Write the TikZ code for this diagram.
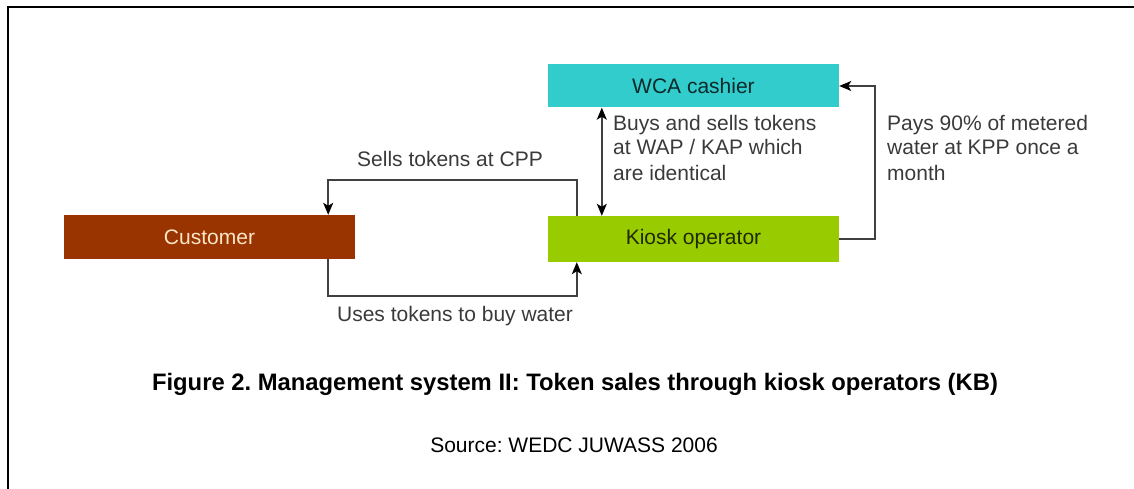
\documentclass[tikz,border=0pt]{standalone}
\usepackage{fontspec}
\setmainfont{Liberation Sans}
\usetikzlibrary{arrows.meta}
\definecolor{wcacol}{HTML}{33CCCC}
\definecolor{kiocol}{HTML}{99CC00}
\definecolor{cuscol}{HTML}{993300}
\definecolor{custxt}{HTML}{FBE6C8}
\definecolor{linecol}{HTML}{404040}
\definecolor{txtcol}{HTML}{3A3A3A}
\tikzset{
  box/.style={draw=none, inner sep=0pt, minimum width=291pt, font=\fontsize{21}{25}\selectfont, text=txtcol},
  tipa/.tip={Stealth[length=12pt,width=10pt,inset=3pt,color=black]},
  conn/.style={draw=linecol, line width=1.5pt, -tipa},
  lbl/.style={inner sep=0pt, align=left, font=\fontsize{21}{25}\selectfont, text=txtcol},
}
\begin{document}
\frenchspacing
\begin{tikzpicture}[x=1pt,y=-1pt]
\useasboundingbox (0,0) rectangle (1134,489);
\draw[line width=2pt] (7.5,489) -- (7.5,7) -- (1134,7);

\node[box, fill=wcacol, minimum height=43pt, text=black!80!wcacol] (wca) at (693.5,86) {WCA cashier};
\node[box, fill=kiocol, minimum height=46pt, text=black!80!kiocol] (kiosk) at (693.5,239) {Kiosk operator};
\node[box, fill=cuscol, minimum height=44pt, text=custxt] (cust) at (209.5,237) {Customer};

\draw[conn] ([xshift=29pt]kiosk.north west) |- ([xshift=-27pt,yshift=35pt]cust.north east) -- ([xshift=-27pt]cust.north east);
\draw[conn] ([xshift=-27pt]cust.south east) |- ([xshift=29pt,yshift=-34pt]kiosk.south west) -- ([xshift=29pt]kiosk.south west);
\draw[conn, tipa-tipa] ([xshift=54pt]wca.south west) -- ([xshift=54pt]kiosk.north west);
\draw[conn] (kiosk.east) -- ++(36,0) |- (wca.east);

\node[lbl, anchor=base] (l1) at (450,167) {Sells tokens at CPP};
\node[lbl, anchor=base] (l2) at (455,321) {Uses tokens to buy water};
\node[lbl, anchor=base west] (l3) at (613,180) {Buys and sells tokens\\at WAP / KAP which\\are identical};
\node[lbl, anchor=base west] (l4) at (887,180) {Pays 90\% of metered\\water at KPP once a\\month};

\node[inner sep=0pt, anchor=base, font=\fontsize{23.8}{28}\selectfont\bfseries] (cap) at (575,390) {Figure 2. Management system II: Token sales through kiosk operators (KB)};
\node[inner sep=0pt, anchor=base, font=\fontsize{21}{25}\selectfont] (src) at (574,452) {Source: WEDC JUWASS 2006};
\end{tikzpicture}
\end{document}
